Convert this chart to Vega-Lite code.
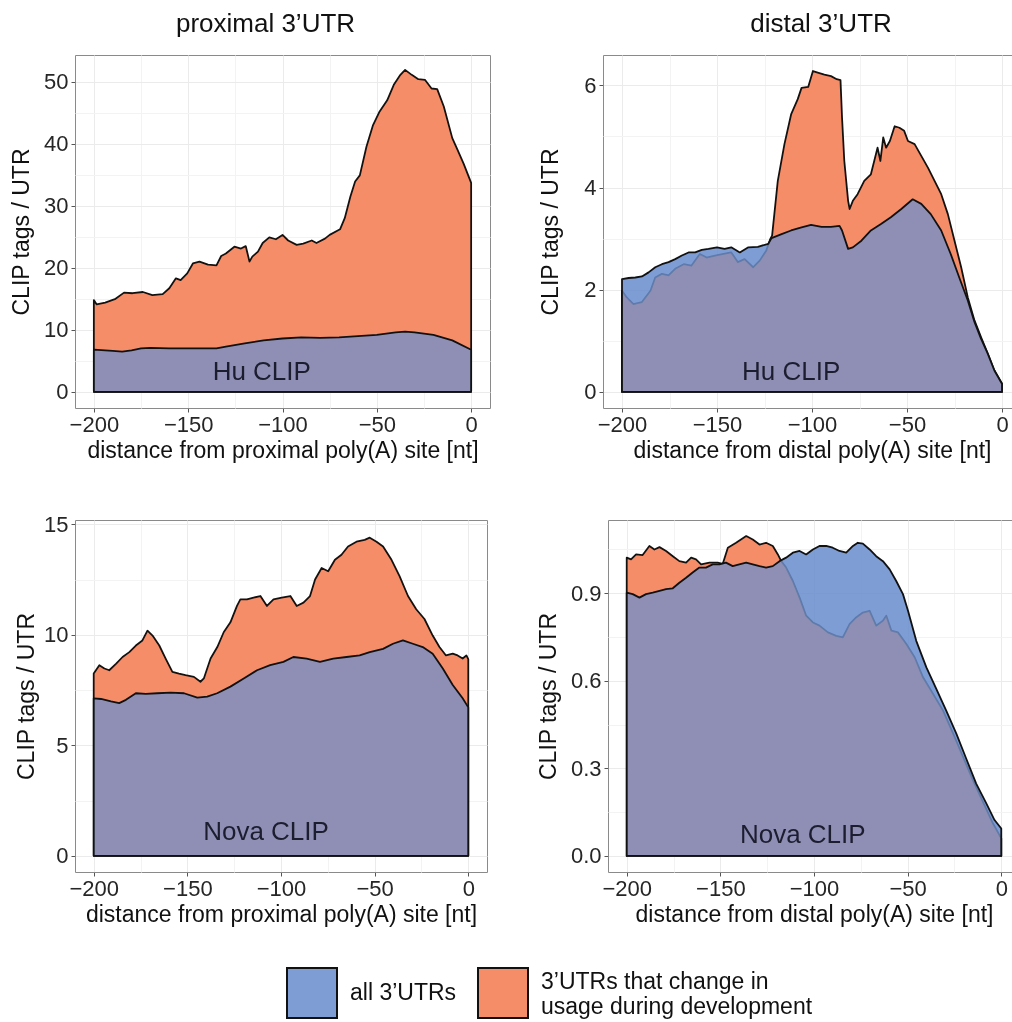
{
  "$schema": "https://vega.github.io/schema/vega-lite/v6.json",
  "background": "white",
  "padding": {"left": 10, "top": 10, "right": 0, "bottom": 0},
  "config": {
    "font": "Liberation Sans",
    "view": {"stroke": "#8a8a8a", "strokeWidth": 1},
    "axis": {
      "domain": false,
      "labelFont": "Liberation Sans",
      "labelFontSize": 22,
      "labelColor": "#262626",
      "labelPadding": 3,
      "labelFlush": false,
      "labelOverlap": false,
      "titleFont": "Liberation Sans",
      "titleFontSize": 23,
      "titleFontWeight": "normal",
      "titleColor": "#111111",
      "tickColor": "#555555",
      "tickSize": 4,
      "tickWidth": 1,
      "gridColor": "#ebebeb",
      "gridWidth": 1
    },
    "axisX": {"labelPadding": 2, "titlePadding": 4},
    "title": {"font": "Liberation Sans", "fontSize": 26, "fontWeight": "normal", "color": "#111111", "anchor": "middle", "offset": 18},
    "text": {"font": "Liberation Sans"}
  },
  "datasets": {
    "hu_proximal": [
      {"x": -200, "y": 14.8, "set": "change"}, {"x": -198.5, "y": 14.1, "set": "change"}, {"x": -194, "y": 14.4, "set": "change"},
      {"x": -188.5, "y": 15.0, "set": "change"}, {"x": -184, "y": 16.0, "set": "change"}, {"x": -179.5, "y": 15.9, "set": "change"},
      {"x": -174, "y": 16.1, "set": "change"}, {"x": -169, "y": 15.6, "set": "change"}, {"x": -163.5, "y": 15.75, "set": "change"},
      {"x": -160, "y": 16.7, "set": "change"}, {"x": -156.5, "y": 18.3, "set": "change"}, {"x": -154, "y": 18.0, "set": "change"},
      {"x": -150.5, "y": 19.1, "set": "change"}, {"x": -147.5, "y": 20.7, "set": "change"}, {"x": -144, "y": 21.0, "set": "change"},
      {"x": -139.5, "y": 20.5, "set": "change"}, {"x": -135, "y": 20.4, "set": "change"}, {"x": -132.5, "y": 21.9, "set": "change"},
      {"x": -130, "y": 22.3, "set": "change"}, {"x": -125.5, "y": 23.4, "set": "change"}, {"x": -122, "y": 23.1, "set": "change"},
      {"x": -119.5, "y": 23.5, "set": "change"}, {"x": -117.5, "y": 21.0, "set": "change"}, {"x": -116, "y": 21.8, "set": "change"},
      {"x": -113, "y": 22.6, "set": "change"}, {"x": -110.5, "y": 24.0, "set": "change"}, {"x": -107, "y": 24.9, "set": "change"},
      {"x": -103.5, "y": 24.6, "set": "change"}, {"x": -100, "y": 25.3, "set": "change"}, {"x": -97, "y": 24.4, "set": "change"},
      {"x": -92.5, "y": 23.7, "set": "change"}, {"x": -89, "y": 23.9, "set": "change"}, {"x": -84.5, "y": 24.4, "set": "change"},
      {"x": -82, "y": 24.0, "set": "change"}, {"x": -77.5, "y": 24.7, "set": "change"}, {"x": -75, "y": 25.3, "set": "change"},
      {"x": -69.5, "y": 26.2, "set": "change"}, {"x": -67, "y": 28.0, "set": "change"}, {"x": -64, "y": 31.5, "set": "change"},
      {"x": -61.5, "y": 33.9, "set": "change"}, {"x": -59, "y": 34.9, "set": "change"}, {"x": -55.5, "y": 39.5, "set": "change"},
      {"x": -52, "y": 43.0, "set": "change"}, {"x": -48.5, "y": 45.2, "set": "change"}, {"x": -44.5, "y": 47.0, "set": "change"},
      {"x": -41, "y": 49.5, "set": "change"}, {"x": -37.5, "y": 51.1, "set": "change"}, {"x": -35, "y": 51.9, "set": "change"},
      {"x": -31.5, "y": 51.1, "set": "change"}, {"x": -28, "y": 50.4, "set": "change"}, {"x": -24.5, "y": 50.3, "set": "change"},
      {"x": -21, "y": 48.9, "set": "change"}, {"x": -18, "y": 48.8, "set": "change"}, {"x": -14.5, "y": 46.0, "set": "change"},
      {"x": -10, "y": 40.9, "set": "change"}, {"x": -7.5, "y": 39.2, "set": "change"}, {"x": -4, "y": 36.8, "set": "change"},
      {"x": 0, "y": 33.7, "set": "change"},
      {"x": -200, "y": 6.8, "set": "all"}, {"x": -190, "y": 6.6, "set": "all"}, {"x": -185, "y": 6.5, "set": "all"},
      {"x": -180, "y": 6.7, "set": "all"}, {"x": -175, "y": 7.0, "set": "all"}, {"x": -170, "y": 7.1, "set": "all"},
      {"x": -160, "y": 7.0, "set": "all"}, {"x": -150, "y": 7.0, "set": "all"}, {"x": -140, "y": 7.0, "set": "all"},
      {"x": -135, "y": 7.0, "set": "all"}, {"x": -130, "y": 7.3, "set": "all"}, {"x": -120, "y": 7.8, "set": "all"},
      {"x": -110, "y": 8.3, "set": "all"}, {"x": -100, "y": 8.6, "set": "all"}, {"x": -90, "y": 8.8, "set": "all"},
      {"x": -80, "y": 8.7, "set": "all"}, {"x": -70, "y": 8.8, "set": "all"}, {"x": -60, "y": 9.0, "set": "all"},
      {"x": -50, "y": 9.2, "set": "all"}, {"x": -40, "y": 9.6, "set": "all"}, {"x": -35, "y": 9.7, "set": "all"},
      {"x": -30, "y": 9.6, "set": "all"}, {"x": -20, "y": 9.2, "set": "all"}, {"x": -10, "y": 8.3, "set": "all"},
      {"x": 0, "y": 6.8, "set": "all"}
    ],
    "hu_distal": [
      {"x": -200, "y": 1.98, "set": "change"}, {"x": -197.5, "y": 1.85, "set": "change"}, {"x": -194, "y": 1.72, "set": "change"},
      {"x": -189.5, "y": 1.76, "set": "change"}, {"x": -185, "y": 1.98, "set": "change"}, {"x": -182.5, "y": 2.24, "set": "change"},
      {"x": -179, "y": 2.31, "set": "change"}, {"x": -175.5, "y": 2.28, "set": "change"}, {"x": -172, "y": 2.41, "set": "change"},
      {"x": -167.5, "y": 2.50, "set": "change"}, {"x": -163.5, "y": 2.47, "set": "change"}, {"x": -159, "y": 2.70, "set": "change"},
      {"x": -155.5, "y": 2.63, "set": "change"}, {"x": -151, "y": 2.67, "set": "change"}, {"x": -146.5, "y": 2.70, "set": "change"},
      {"x": -142.5, "y": 2.73, "set": "change"}, {"x": -139, "y": 2.54, "set": "change"}, {"x": -135.5, "y": 2.60, "set": "change"},
      {"x": -131, "y": 2.44, "set": "change"}, {"x": -127.5, "y": 2.57, "set": "change"}, {"x": -124, "y": 2.77, "set": "change"},
      {"x": -122, "y": 2.99, "set": "change"}, {"x": -121, "y": 3.06, "set": "change"}, {"x": -118, "y": 4.13, "set": "change"},
      {"x": -114.5, "y": 4.85, "set": "change"}, {"x": -111, "y": 5.43, "set": "change"}, {"x": -107.5, "y": 5.73, "set": "change"},
      {"x": -105.5, "y": 5.95, "set": "change"}, {"x": -102, "y": 5.97, "set": "change"}, {"x": -99.5, "y": 6.28, "set": "change"},
      {"x": -97, "y": 6.25, "set": "change"}, {"x": -93.5, "y": 6.21, "set": "change"}, {"x": -90, "y": 6.18, "set": "change"},
      {"x": -87, "y": 6.12, "set": "change"}, {"x": -85, "y": 6.10, "set": "change"}, {"x": -84.2, "y": 5.37, "set": "change"},
      {"x": -83, "y": 4.52, "set": "change"}, {"x": -81, "y": 3.74, "set": "change"}, {"x": -80.2, "y": 3.58, "set": "change"},
      {"x": -78.5, "y": 3.74, "set": "change"}, {"x": -76, "y": 3.87, "set": "change"}, {"x": -72.5, "y": 4.13, "set": "change"},
      {"x": -69, "y": 4.26, "set": "change"}, {"x": -65.5, "y": 4.78, "set": "change"}, {"x": -64, "y": 4.52, "set": "change"},
      {"x": -62.5, "y": 4.98, "set": "change"}, {"x": -61, "y": 4.78, "set": "change"}, {"x": -59, "y": 4.91, "set": "change"},
      {"x": -56.5, "y": 5.20, "set": "change"}, {"x": -54, "y": 5.17, "set": "change"}, {"x": -51.5, "y": 5.11, "set": "change"},
      {"x": -49.5, "y": 4.91, "set": "change"}, {"x": -46, "y": 4.85, "set": "change"}, {"x": -42.5, "y": 4.62, "set": "change"},
      {"x": -39, "y": 4.39, "set": "change"}, {"x": -35.5, "y": 4.13, "set": "change"}, {"x": -32, "y": 3.87, "set": "change"},
      {"x": -28.5, "y": 3.48, "set": "change"}, {"x": -25, "y": 2.96, "set": "change"}, {"x": -21.5, "y": 2.44, "set": "change"},
      {"x": -18, "y": 1.85, "set": "change"}, {"x": -14.5, "y": 1.40, "set": "change"}, {"x": -11, "y": 1.07, "set": "change"},
      {"x": -7.5, "y": 0.75, "set": "change"}, {"x": -4, "y": 0.42, "set": "change"}, {"x": 0, "y": 0.16, "set": "change"},
      {"x": -200, "y": 2.21, "set": "all"}, {"x": -196.5, "y": 2.23, "set": "all"}, {"x": -193, "y": 2.24, "set": "all"},
      {"x": -189.5, "y": 2.26, "set": "all"}, {"x": -186, "y": 2.34, "set": "all"}, {"x": -182.5, "y": 2.44, "set": "all"},
      {"x": -179, "y": 2.50, "set": "all"}, {"x": -175.5, "y": 2.54, "set": "all"}, {"x": -172, "y": 2.60, "set": "all"},
      {"x": -168.5, "y": 2.67, "set": "all"}, {"x": -165, "y": 2.73, "set": "all"}, {"x": -161.5, "y": 2.73, "set": "all"},
      {"x": -158, "y": 2.78, "set": "all"}, {"x": -154.5, "y": 2.80, "set": "all"}, {"x": -150, "y": 2.83, "set": "all"},
      {"x": -146, "y": 2.80, "set": "all"}, {"x": -142.5, "y": 2.83, "set": "all"}, {"x": -138, "y": 2.73, "set": "all"},
      {"x": -133.5, "y": 2.83, "set": "all"}, {"x": -128.5, "y": 2.84, "set": "all"}, {"x": -123, "y": 2.90, "set": "all"},
      {"x": -121.3, "y": 3.01, "set": "all"}, {"x": -116, "y": 3.09, "set": "all"}, {"x": -111, "y": 3.16, "set": "all"},
      {"x": -105.5, "y": 3.22, "set": "all"}, {"x": -100.5, "y": 3.27, "set": "all"}, {"x": -95, "y": 3.23, "set": "all"},
      {"x": -90, "y": 3.23, "set": "all"}, {"x": -85.5, "y": 3.25, "set": "all"}, {"x": -84.2, "y": 3.16, "set": "all"},
      {"x": -81, "y": 2.80, "set": "all"}, {"x": -78.5, "y": 2.83, "set": "all"}, {"x": -74, "y": 2.96, "set": "all"},
      {"x": -69, "y": 3.16, "set": "all"}, {"x": -63.5, "y": 3.29, "set": "all"}, {"x": -58.5, "y": 3.42, "set": "all"},
      {"x": -53, "y": 3.58, "set": "all"}, {"x": -47, "y": 3.77, "set": "all"}, {"x": -42.5, "y": 3.68, "set": "all"},
      {"x": -37.5, "y": 3.48, "set": "all"}, {"x": -32, "y": 3.16, "set": "all"}, {"x": -27, "y": 2.70, "set": "all"},
      {"x": -22.5, "y": 2.24, "set": "all"}, {"x": -18, "y": 1.79, "set": "all"}, {"x": -14.5, "y": 1.37, "set": "all"},
      {"x": -11, "y": 1.04, "set": "all"}, {"x": -7.5, "y": 0.75, "set": "all"}, {"x": -4, "y": 0.42, "set": "all"},
      {"x": 0, "y": 0.16, "set": "all"}
    ],
    "nova_proximal": [
      {"x": -200, "y": 8.25, "set": "change"}, {"x": -197, "y": 8.63, "set": "change"}, {"x": -194.3, "y": 8.48, "set": "change"},
      {"x": -191.7, "y": 8.40, "set": "change"}, {"x": -188, "y": 8.70, "set": "change"}, {"x": -184.6, "y": 9.0, "set": "change"},
      {"x": -181, "y": 9.22, "set": "change"}, {"x": -177.5, "y": 9.52, "set": "change"}, {"x": -174, "y": 9.75, "set": "change"},
      {"x": -171.3, "y": 10.19, "set": "change"}, {"x": -168.6, "y": 9.97, "set": "change"}, {"x": -165, "y": 9.52, "set": "change"},
      {"x": -161.6, "y": 8.93, "set": "change"}, {"x": -158, "y": 8.33, "set": "change"}, {"x": -154.5, "y": 8.25, "set": "change"},
      {"x": -151, "y": 8.18, "set": "change"}, {"x": -146.5, "y": 8.10, "set": "change"}, {"x": -143, "y": 7.88, "set": "change"},
      {"x": -141.2, "y": 8.03, "set": "change"}, {"x": -137.6, "y": 8.93, "set": "change"}, {"x": -134, "y": 9.45, "set": "change"},
      {"x": -130.6, "y": 10.12, "set": "change"}, {"x": -127, "y": 10.57, "set": "change"}, {"x": -123.5, "y": 11.31, "set": "change"},
      {"x": -121.7, "y": 11.61, "set": "change"}, {"x": -118.2, "y": 11.61, "set": "change"}, {"x": -114.6, "y": 11.69, "set": "change"},
      {"x": -111, "y": 11.76, "set": "change"}, {"x": -107.5, "y": 11.31, "set": "change"}, {"x": -104, "y": 11.61, "set": "change"},
      {"x": -99.6, "y": 11.69, "set": "change"}, {"x": -95, "y": 11.76, "set": "change"}, {"x": -91.6, "y": 11.31, "set": "change"},
      {"x": -88, "y": 11.46, "set": "change"}, {"x": -84.5, "y": 11.76, "set": "change"}, {"x": -81.8, "y": 12.51, "set": "change"},
      {"x": -78.3, "y": 13.03, "set": "change"}, {"x": -74.8, "y": 12.88, "set": "change"}, {"x": -71.2, "y": 13.40, "set": "change"},
      {"x": -67.7, "y": 13.63, "set": "change"}, {"x": -64.2, "y": 14.00, "set": "change"}, {"x": -59.7, "y": 14.22, "set": "change"},
      {"x": -55.3, "y": 14.30, "set": "change"}, {"x": -52.6, "y": 14.40, "set": "change"}, {"x": -49, "y": 14.22, "set": "change"},
      {"x": -45.5, "y": 14.00, "set": "change"}, {"x": -41, "y": 13.40, "set": "change"}, {"x": -36.7, "y": 12.66, "set": "change"},
      {"x": -32.2, "y": 11.76, "set": "change"}, {"x": -27.8, "y": 11.16, "set": "change"}, {"x": -23.4, "y": 10.72, "set": "change"},
      {"x": -19, "y": 9.97, "set": "change"}, {"x": -15.4, "y": 9.45, "set": "change"}, {"x": -11.9, "y": 9.07, "set": "change"},
      {"x": -8.3, "y": 9.15, "set": "change"}, {"x": -5.7, "y": 9.07, "set": "change"}, {"x": -3, "y": 8.93, "set": "change"},
      {"x": -1, "y": 9.07, "set": "change"}, {"x": 0, "y": 8.9, "set": "change"},
      {"x": -200, "y": 7.13, "set": "all"}, {"x": -196.1, "y": 7.10, "set": "all"}, {"x": -190.8, "y": 6.99, "set": "all"},
      {"x": -186.4, "y": 6.91, "set": "all"}, {"x": -182.8, "y": 7.06, "set": "all"}, {"x": -177.5, "y": 7.36, "set": "all"},
      {"x": -172.2, "y": 7.33, "set": "all"}, {"x": -166, "y": 7.36, "set": "all"}, {"x": -158.9, "y": 7.39, "set": "all"},
      {"x": -151.8, "y": 7.36, "set": "all"}, {"x": -144.7, "y": 7.16, "set": "all"}, {"x": -139.4, "y": 7.21, "set": "all"},
      {"x": -134.1, "y": 7.36, "set": "all"}, {"x": -127, "y": 7.66, "set": "all"}, {"x": -119.9, "y": 8.03, "set": "all"},
      {"x": -112.8, "y": 8.40, "set": "all"}, {"x": -105.8, "y": 8.63, "set": "all"}, {"x": -98.7, "y": 8.78, "set": "all"},
      {"x": -93.4, "y": 9.00, "set": "all"}, {"x": -86.3, "y": 8.93, "set": "all"}, {"x": -79.2, "y": 8.78, "set": "all"},
      {"x": -72.1, "y": 8.93, "set": "all"}, {"x": -65, "y": 9.00, "set": "all"}, {"x": -58, "y": 9.07, "set": "all"},
      {"x": -52.6, "y": 9.22, "set": "all"}, {"x": -45.5, "y": 9.37, "set": "all"}, {"x": -40.2, "y": 9.60, "set": "all"},
      {"x": -34.9, "y": 9.75, "set": "all"}, {"x": -29.6, "y": 9.60, "set": "all"}, {"x": -24.3, "y": 9.45, "set": "all"},
      {"x": -19, "y": 9.15, "set": "all"}, {"x": -13.6, "y": 8.48, "set": "all"}, {"x": -8.3, "y": 7.73, "set": "all"},
      {"x": -3, "y": 7.13, "set": "all"}, {"x": 0, "y": 6.72, "set": "all"}
    ],
    "nova_distal": [
      {"x": -200, "y": 1.022, "set": "change"}, {"x": -197.7, "y": 1.016, "set": "change"}, {"x": -195, "y": 1.033, "set": "change"},
      {"x": -191.5, "y": 1.031, "set": "change"}, {"x": -187.9, "y": 1.062, "set": "change"}, {"x": -185.2, "y": 1.050, "set": "change"},
      {"x": -182.5, "y": 1.058, "set": "change"}, {"x": -179, "y": 1.045, "set": "change"}, {"x": -175.4, "y": 1.027, "set": "change"},
      {"x": -171.9, "y": 1.010, "set": "change"}, {"x": -168.3, "y": 1.005, "set": "change"}, {"x": -165.6, "y": 1.022, "set": "change"},
      {"x": -163, "y": 1.016, "set": "change"}, {"x": -160.3, "y": 0.999, "set": "change"}, {"x": -155.8, "y": 1.005, "set": "change"},
      {"x": -151.4, "y": 1.005, "set": "change"}, {"x": -148.7, "y": 1.001, "set": "change"}, {"x": -146, "y": 1.056, "set": "change"},
      {"x": -141.6, "y": 1.073, "set": "change"}, {"x": -136.2, "y": 1.096, "set": "change"}, {"x": -132.7, "y": 1.084, "set": "change"},
      {"x": -129.1, "y": 1.067, "set": "change"}, {"x": -125.6, "y": 1.073, "set": "change"}, {"x": -122, "y": 1.062, "set": "change"},
      {"x": -119.3, "y": 1.033, "set": "change"}, {"x": -117.5, "y": 1.010, "set": "change"}, {"x": -114.9, "y": 0.988, "set": "change"},
      {"x": -111.3, "y": 0.942, "set": "change"}, {"x": -107.7, "y": 0.885, "set": "change"}, {"x": -104.2, "y": 0.823, "set": "change"},
      {"x": -100.6, "y": 0.800, "set": "change"}, {"x": -97.1, "y": 0.789, "set": "change"}, {"x": -92.6, "y": 0.766, "set": "change"},
      {"x": -88.2, "y": 0.754, "set": "change"}, {"x": -84.6, "y": 0.749, "set": "change"}, {"x": -81, "y": 0.794, "set": "change"},
      {"x": -77.5, "y": 0.817, "set": "change"}, {"x": -73.9, "y": 0.834, "set": "change"}, {"x": -70.3, "y": 0.840, "set": "change"},
      {"x": -66.8, "y": 0.789, "set": "change"}, {"x": -63.2, "y": 0.806, "set": "change"}, {"x": -61.4, "y": 0.823, "set": "change"},
      {"x": -58.7, "y": 0.772, "set": "change"}, {"x": -55.2, "y": 0.766, "set": "change"}, {"x": -50.7, "y": 0.726, "set": "change"},
      {"x": -46.2, "y": 0.680, "set": "change"}, {"x": -41.8, "y": 0.612, "set": "change"}, {"x": -36.4, "y": 0.555, "set": "change"},
      {"x": -31.1, "y": 0.498, "set": "change"}, {"x": -25.7, "y": 0.419, "set": "change"}, {"x": -20.4, "y": 0.339, "set": "change"},
      {"x": -15.1, "y": 0.259, "set": "change"}, {"x": -9.8, "y": 0.185, "set": "change"}, {"x": -4.5, "y": 0.112, "set": "change"},
      {"x": 0, "y": 0.060, "set": "change"},
      {"x": -200, "y": 0.902, "set": "all"}, {"x": -196.8, "y": 0.897, "set": "all"}, {"x": -193.2, "y": 0.885, "set": "all"},
      {"x": -189.7, "y": 0.897, "set": "all"}, {"x": -186.1, "y": 0.902, "set": "all"}, {"x": -182.5, "y": 0.908, "set": "all"},
      {"x": -179, "y": 0.914, "set": "all"}, {"x": -175.4, "y": 0.917, "set": "all"}, {"x": -171.9, "y": 0.936, "set": "all"},
      {"x": -168.3, "y": 0.953, "set": "all"}, {"x": -164.8, "y": 0.971, "set": "all"}, {"x": -161.2, "y": 0.988, "set": "all"},
      {"x": -157.7, "y": 0.988, "set": "all"}, {"x": -154.1, "y": 0.999, "set": "all"}, {"x": -150.5, "y": 0.999, "set": "all"},
      {"x": -147, "y": 1.005, "set": "all"}, {"x": -143.4, "y": 0.993, "set": "all"}, {"x": -139.9, "y": 0.999, "set": "all"},
      {"x": -136.2, "y": 1.005, "set": "all"}, {"x": -132.7, "y": 0.999, "set": "all"}, {"x": -129.1, "y": 0.993, "set": "all"},
      {"x": -125.6, "y": 0.988, "set": "all"}, {"x": -122, "y": 0.993, "set": "all"}, {"x": -118.4, "y": 1.010, "set": "all"},
      {"x": -114.9, "y": 1.022, "set": "all"}, {"x": -111.3, "y": 1.039, "set": "all"}, {"x": -107.7, "y": 1.045, "set": "all"},
      {"x": -104.2, "y": 1.033, "set": "all"}, {"x": -100.6, "y": 1.050, "set": "all"}, {"x": -97.1, "y": 1.062, "set": "all"},
      {"x": -93.5, "y": 1.062, "set": "all"}, {"x": -90, "y": 1.056, "set": "all"}, {"x": -86.4, "y": 1.045, "set": "all"},
      {"x": -82.8, "y": 1.039, "set": "all"}, {"x": -79.2, "y": 1.062, "set": "all"}, {"x": -76.6, "y": 1.073, "set": "all"},
      {"x": -73.9, "y": 1.070, "set": "all"}, {"x": -70.3, "y": 1.050, "set": "all"}, {"x": -66.8, "y": 1.027, "set": "all"},
      {"x": -63.2, "y": 1.010, "set": "all"}, {"x": -59.6, "y": 0.982, "set": "all"}, {"x": -56.1, "y": 0.942, "set": "all"},
      {"x": -52.5, "y": 0.897, "set": "all"}, {"x": -49.8, "y": 0.840, "set": "all"}, {"x": -45.4, "y": 0.737, "set": "all"},
      {"x": -40, "y": 0.646, "set": "all"}, {"x": -34.7, "y": 0.572, "set": "all"}, {"x": -29.4, "y": 0.498, "set": "all"},
      {"x": -24, "y": 0.419, "set": "all"}, {"x": -18.7, "y": 0.333, "set": "all"}, {"x": -13.4, "y": 0.248, "set": "all"},
      {"x": -8, "y": 0.180, "set": "all"}, {"x": -3.6, "y": 0.123, "set": "all"}, {"x": 0, "y": 0.094, "set": "all"}
    ],
    "labels": [
      {"panel": "hu_proximal", "x": -111, "y": 3.2, "text": "Hu CLIP"},
      {"panel": "hu_distal", "x": -111, "y": 0.39, "text": "Hu CLIP"},
      {"panel": "nova_proximal", "x": -108, "y": 1.08, "text": "Nova CLIP"},
      {"panel": "nova_distal", "x": -106, "y": 0.072, "text": "Nova CLIP"}
    ]
  },
  "spacing": 49,
  "vconcat": [
    {
      "spacing": 113,
      "bounds": "flush",
      "hconcat": [
        {
          "width": 415, "height": 353,
          "title": {"text": "proximal 3’UTR", "dx": -17},
          "data": {"name": "hu_proximal"},
          "encoding": {
            "x": {"field": "x", "type": "quantitative", "scale": {"domain": [-210, 10], "nice": false, "zero": false},
              "axis": {"title": "distance from proximal poly(A) site [nt]", "values": [-200, -175, -150, -125, -100, -75, -50, -25, 0],
                "labelExpr": "datum.value % 50 == 0 ? datum.label : ''",
                "tickOpacity": {"condition": {"test": "datum.value % 50 != 0", "value": 0}, "value": 1},
                "gridColor": {"condition": {"test": "datum.value % 50 != 0", "value": "#f3f3f3"}, "value": "#ebebeb"}}},
            "y": {"field": "y", "type": "quantitative", "scale": {"domain": [-2.6, 54.3], "nice": false, "zero": false},
              "axis": {"title": "CLIP tags / UTR", "titlePadding": 10, "values": [0, 5, 10, 15, 20, 25, 30, 35, 40, 45, 50],
                "labelExpr": "datum.value % 10 == 0 ? datum.label : ''",
                "tickOpacity": {"condition": {"test": "datum.value % 10 != 0", "value": 0}, "value": 1},
                "gridColor": {"condition": {"test": "datum.value % 10 != 0", "value": "#f3f3f3"}, "value": "#ebebeb"}}}
          },
          "layer": [
            {"transform": [{"filter": "datum.set == 'change'"}], "mark": {"type": "area", "fill": "#f38980", "stroke": "#111111", "strokeWidth": 1.8, "strokeJoin": "round"}},
            {"transform": [{"filter": "datum.set == 'all'"}], "mark": {"type": "area", "fill": "#678cce", "opacity": 0.85}},
            {"transform": [{"filter": "datum.set == 'change'"}], "mark": {"type": "area", "fill": "#928467", "blend": "overlay"}},
            {"transform": [{"filter": "datum.set == 'all'"}], "mark": {"type": "area", "fillOpacity": 0, "stroke": "#111111", "strokeWidth": 1.8, "strokeJoin": "round"},
              "encoding": {"color": {"field": "set", "type": "nominal", "scale": {"domain": ["all", "change"], "range": ["#7e9dd5", "#f68d69"]},
                "legend": {"orient": "none", "legendX": 211, "legendY": 912, "direction": "horizontal", "title": null,
                  "symbolType": "square", "symbolSize": 2500, "symbolStrokeColor": "#111111", "symbolStrokeWidth": 2, "symbolOpacity": 1,
                  "labelFont": "Liberation Sans", "labelFontSize": 23, "labelColor": "#111111", "labelLimit": 500, "labelOffset": 12, "labelLineHeight": 23,
                  "columnPadding": 17,
                  "labelExpr": "datum.value == 'all' ? 'all 3’UTRs' : ['3’UTRs that change in', 'usage during development']",
                  "encode": {"symbols": {"update": {"fillOpacity": {"value": 1}, "opacity": {"value": 1}}},
                    "labels": {"update": {"dy": {"signal": "datum.value == 'all' ? 0 : -11"}}}}}}}},
            {"data": {"name": "labels"}, "transform": [{"filter": "datum.panel == 'hu_proximal'"}],
              "mark": {"type": "text", "fontSize": 26, "color": "#1d1d30", "align": "center", "baseline": "middle"},
              "encoding": {"text": {"field": "text"}}}
          ]
        },
        {
          "width": 418, "height": 353,
          "title": {"text": "distal 3’UTR", "dx": 9},
          "data": {"name": "hu_distal"},
          "encoding": {
            "x": {"field": "x", "type": "quantitative", "scale": {"domain": [-210, 10], "nice": false, "zero": false},
              "axis": {"title": "distance from distal poly(A) site [nt]", "values": [-200, -175, -150, -125, -100, -75, -50, -25, 0],
                "labelExpr": "datum.value % 50 == 0 ? datum.label : ''",
                "tickOpacity": {"condition": {"test": "datum.value % 50 != 0", "value": 0}, "value": 1},
                "gridColor": {"condition": {"test": "datum.value % 50 != 0", "value": "#f3f3f3"}, "value": "#ebebeb"}}},
            "y": {"field": "y", "type": "quantitative", "scale": {"domain": [-0.314, 6.594], "nice": false, "zero": false},
              "axis": {"title": "CLIP tags / UTR", "titlePadding": 21, "values": [0, 1, 2, 3, 4, 5, 6],
                "labelExpr": "datum.value % 2 == 0 ? datum.label : ''",
                "tickOpacity": {"condition": {"test": "datum.value % 2 != 0", "value": 0}, "value": 1},
                "gridColor": {"condition": {"test": "datum.value % 2 != 0", "value": "#f3f3f3"}, "value": "#ebebeb"}}}
          },
          "layer": [
            {"transform": [{"filter": "datum.set == 'change'"}], "mark": {"type": "area", "fill": "#f38980", "stroke": "#111111", "strokeWidth": 1.8, "strokeJoin": "round"}},
            {"transform": [{"filter": "datum.set == 'all'"}], "mark": {"type": "area", "fill": "#678cce", "opacity": 0.85}},
            {"transform": [{"filter": "datum.set == 'change'"}], "mark": {"type": "area", "fill": "#928467", "blend": "overlay"}},
            {"transform": [{"filter": "datum.set == 'all'"}], "mark": {"type": "area", "fillOpacity": 0, "stroke": "#111111", "strokeWidth": 1.8, "strokeJoin": "round"},
              "encoding": {"color": {"field": "set", "type": "nominal"}}},
            {"data": {"name": "labels"}, "transform": [{"filter": "datum.panel == 'hu_distal'"}],
              "mark": {"type": "text", "fontSize": 26, "color": "#1d1d30", "align": "center", "baseline": "middle"},
              "encoding": {"text": {"field": "text"}}}
          ]
        }
      ]
    },
    {
      "spacing": 121,
      "bounds": "flush",
      "hconcat": [
        {
          "width": 412, "height": 352,
          "data": {"name": "nova_proximal"},
          "encoding": {
            "x": {"field": "x", "type": "quantitative", "scale": {"domain": [-210, 10], "nice": false, "zero": false},
              "axis": {"title": "distance from proximal poly(A) site [nt]", "values": [-200, -175, -150, -125, -100, -75, -50, -25, 0],
                "labelExpr": "datum.value % 50 == 0 ? datum.label : ''",
                "tickOpacity": {"condition": {"test": "datum.value % 50 != 0", "value": 0}, "value": 1},
                "gridColor": {"condition": {"test": "datum.value % 50 != 0", "value": "#f3f3f3"}, "value": "#ebebeb"}}},
            "y": {"field": "y", "type": "quantitative", "scale": {"domain": [-0.73, 15.2], "nice": false, "zero": false},
              "axis": {"title": "CLIP tags / UTR", "titlePadding": 5, "values": [0, 2.5, 5, 7.5, 10, 12.5, 15],
                "labelExpr": "datum.value % 5 == 0 ? datum.label : ''",
                "tickOpacity": {"condition": {"test": "datum.value % 5 != 0", "value": 0}, "value": 1},
                "gridColor": {"condition": {"test": "datum.value % 5 != 0", "value": "#f3f3f3"}, "value": "#ebebeb"}}}
          },
          "layer": [
            {"transform": [{"filter": "datum.set == 'change'"}], "mark": {"type": "area", "fill": "#f38980", "stroke": "#111111", "strokeWidth": 1.8, "strokeJoin": "round"}},
            {"transform": [{"filter": "datum.set == 'all'"}], "mark": {"type": "area", "fill": "#678cce", "opacity": 0.85}},
            {"transform": [{"filter": "datum.set == 'change'"}], "mark": {"type": "area", "fill": "#928467", "blend": "overlay"}},
            {"transform": [{"filter": "datum.set == 'all'"}], "mark": {"type": "area", "fillOpacity": 0, "stroke": "#111111", "strokeWidth": 1.8, "strokeJoin": "round"},
              "encoding": {"color": {"field": "set", "type": "nominal"}}},
            {"data": {"name": "labels"}, "transform": [{"filter": "datum.panel == 'nova_proximal'"}],
              "mark": {"type": "text", "fontSize": 26, "color": "#1d1d30", "align": "center", "baseline": "middle"},
              "encoding": {"text": {"field": "text"}}}
          ]
        },
        {
          "width": 412, "height": 352,
          "data": {"name": "nova_distal"},
          "encoding": {
            "x": {"field": "x", "type": "quantitative", "scale": {"domain": [-210, 10], "nice": false, "zero": false},
              "axis": {"title": "distance from distal poly(A) site [nt]", "values": [-200, -175, -150, -125, -100, -75, -50, -25, 0],
                "labelExpr": "datum.value % 50 == 0 ? datum.label : ''",
                "tickOpacity": {"condition": {"test": "datum.value % 50 != 0", "value": 0}, "value": 1},
                "gridColor": {"condition": {"test": "datum.value % 50 != 0", "value": "#f3f3f3"}, "value": "#ebebeb"}}},
            "y": {"field": "y", "type": "quantitative", "scale": {"domain": [-0.055, 1.151], "nice": false, "zero": false},
              "axis": {"title": "CLIP tags / UTR", "titlePadding": 10, "format": ".1f", "values": [0, 0.15, 0.3, 0.45, 0.6, 0.75, 0.9, 1.05],
                "labelExpr": "round(datum.value * 100) % 30 == 0 ? datum.label : ''",
                "tickOpacity": {"condition": {"test": "round(datum.value * 100) % 30 != 0", "value": 0}, "value": 1},
                "gridColor": {"condition": {"test": "round(datum.value * 100) % 30 != 0", "value": "#f3f3f3"}, "value": "#ebebeb"}}}
          },
          "layer": [
            {"transform": [{"filter": "datum.set == 'change'"}], "mark": {"type": "area", "fill": "#f38980", "stroke": "#111111", "strokeWidth": 1.8, "strokeJoin": "round"}},
            {"transform": [{"filter": "datum.set == 'all'"}], "mark": {"type": "area", "fill": "#678cce", "opacity": 0.85}},
            {"transform": [{"filter": "datum.set == 'change'"}], "mark": {"type": "area", "fill": "#928467", "blend": "overlay"}},
            {"transform": [{"filter": "datum.set == 'all'"}], "mark": {"type": "area", "fillOpacity": 0, "stroke": "#111111", "strokeWidth": 1.8, "strokeJoin": "round"},
              "encoding": {"color": {"field": "set", "type": "nominal"}}},
            {"data": {"name": "labels"}, "transform": [{"filter": "datum.panel == 'nova_distal'"}],
              "mark": {"type": "text", "fontSize": 26, "color": "#1d1d30", "align": "center", "baseline": "middle"},
              "encoding": {"text": {"field": "text"}}}
          ]
        }
      ]
    }
  ]
}
